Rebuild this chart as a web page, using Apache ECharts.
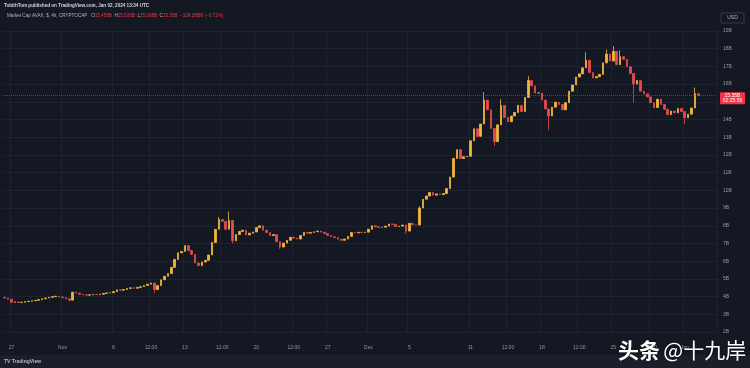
<!DOCTYPE html>
<html><head><meta charset="utf-8">
<script src="https://cdn.jsdelivr.net/npm/echarts@6/dist/echarts.min.js"></script>
<style>html,body{margin:0;padding:0;background:#141823;}#c{width:750px;height:368px;}</style>
</head><body><div id="c"></div>
<script>
// 8h candles, Oct 26 2023 08:00 UTC -> Jan 2 2024 08:00 UTC (market cap, billions USD)
const closes = [
3.92,3.85,3.68,3.70,3.67,3.68,3.72,3.74,3.77,3.79,
3.83,3.88,3.92,3.96,4.00,4.02,3.98,3.94,3.88,3.80,
4.25,4.20,4.13,4.10,4.08,4.10,4.12,4.11,4.13,4.18,
4.21,4.22,4.28,4.38,4.36,4.40,4.46,4.50,4.47,4.52,
4.56,4.63,4.70,4.77,4.40,4.62,4.95,5.15,5.30,5.65,
6.10,6.47,6.55,6.88,6.60,6.38,5.90,5.75,5.95,6.05,
6.35,7.05,7.80,8.35,8.25,7.80,8.30,7.15,7.50,7.68,
7.75,7.48,7.58,7.65,7.90,8.00,7.75,7.62,7.45,7.50,
7.10,6.80,7.02,7.18,7.35,7.30,7.25,7.45,7.63,7.58,
7.62,7.66,7.70,7.64,7.56,7.46,7.38,7.33,7.24,7.18,
7.25,7.40,7.62,7.60,7.63,7.62,7.64,7.80,8.00,7.94,
7.91,7.92,7.98,8.10,8.08,7.96,7.98,8.04,7.70,8.14,
8.05,8.04,9.00,9.50,9.68,9.88,9.73,9.80,9.76,9.82,
10.10,10.75,11.80,12.30,11.80,11.90,11.92,12.80,13.48,13.05,
13.75,15.10,14.55,13.50,12.75,13.70,14.80,14.12,13.88,14.20,
14.40,14.80,14.45,15.25,16.20,15.90,15.50,15.50,15.10,14.60,
14.20,14.70,14.98,14.85,14.55,14.95,15.60,15.95,16.40,16.58,
16.92,17.35,16.65,16.35,16.42,16.55,17.20,17.70,17.30,17.85,
17.10,17.55,17.40,16.98,16.60,16.00,16.20,15.60,15.45,15.28,
14.95,14.68,15.15,14.85,14.58,14.28,14.48,14.38,14.62,14.45,
14.10,14.30,14.65,15.46,15.35
];
const firstOpen = 3.95;
// notable wicks (candle index -> value)
const wickHigh = {0:4.0, 63:8.5, 66:8.8, 122:9.1, 141:15.55, 146:15.15, 154:16.45, 171:17.8, 177:17.95, 179:18.15, 181:17.9, 203:15.8};
const wickLow = {19:3.75, 44:4.2, 67:7.0, 81:6.7, 118:7.55, 144:12.5, 160:13.4, 185:14.95, 200:13.75};

const tickAt = ['2023-10-27 00:00','2023-11-01 00:00','2023-11-06 00:00','2023-11-09 16:00','2023-11-13 00:00','2023-11-16 16:00','2023-11-20 00:00','2023-11-23 16:00','2023-11-27 00:00','2023-12-01 00:00','2023-12-05 00:00','2023-12-11 00:00','2023-12-14 16:00','2023-12-18 00:00','2023-12-21 16:00','2023-12-25 00:00','2023-12-28 16:00','2024-01-01 00:00'];
const tickText = ['27','Nov','6','12:00','13','12:00','20','12:00','27','Dec','5','11','12:00','18','12:00','25','12:00','Jan'];
const yMin = 2, yMax = 19, yStep = 1;
const lastPrice = 15.35, lastLabel = '15.35B', countdown = '02:25:56';

const pad = n => String(n).padStart(2,'0');
const fmt = t => { const d = new Date(t); return d.getUTCFullYear()+'-'+pad(d.getUTCMonth()+1)+'-'+pad(d.getUTCDate())+' '+pad(d.getUTCHours())+':00'; };
const start = Date.UTC(2023,9,26,8);
const cats = [];
for (let i = 0; i < closes.length + 5; i++) cats.push(fmt(start + i*8*3600e3));
const tickIdx = {};
tickAt.forEach((t,k) => { const i = cats.indexOf(t); if (i >= 0) tickIdx[i] = tickText[k]; });

const ohlc = closes.map((c,i) => {
  const o = i === 0 ? firstOpen : closes[i-1];
  const h = Math.max(o, c, wickHigh[i] !== undefined ? wickHigh[i] : -Infinity);
  const l = Math.min(o, c, wickLow[i] !== undefined ? wickLow[i] : Infinity);
  return [o, c, l, h];
});

const UP = '#f3b73c', DOWN = '#e84a4f', TXT = '#9598a1', GRID = '#1e2231', RED = '#f23645';
const chart = echarts.init(document.getElementById('c'), null, {renderer:'canvas'});
const F = 'Liberation Sans, Arial, sans-serif';
chart.setOption({
  backgroundColor: '#141823',
  animation: false,
  grid: {left: 3, right: 33, top: 31, bottom: 36},
  xAxis: {
    type: 'category', data: cats, boundaryGap: true,
    axisLine: {show: false}, axisTick: {show: false},
    axisLabel: {interval: i => i in tickIdx, formatter: (v,i) => tickIdx[i] || '', color: TXT, fontSize: 5, margin: 13, fontFamily: F},
    splitLine: {show: true, interval: i => i in tickIdx, lineStyle: {color: GRID, width: 1}}
  },
  yAxis: {
    type: 'value', position: 'right', min: yMin, max: yMax, interval: yStep, scale: true,
    axisLine: {show: false}, axisTick: {show: false},
    axisLabel: {formatter: v => v + 'B', color: TXT, fontSize: 5, margin: 6, fontFamily: F},
    splitLine: {lineStyle: {color: GRID, width: 1}}
  },
  series: [{
    type: 'candlestick', data: ohlc, barWidth: 2,
    itemStyle: {color: UP, color0: DOWN, borderColor: UP, borderColor0: DOWN, borderWidth: 0.8},
    markLine: {silent: true, symbol: 'none', label: {show: false},
      lineStyle: {color: RED, type: 'dotted', width: 1, opacity: 0.6},
      data: [{yAxis: lastPrice}]}
  }]
});

const py = chart.convertToPixel({yAxisIndex: 0}, lastPrice);
const G = '#b2b5be';
const g = [
  {type:'text', left: 4, top: 3.5, style:{text:'TobithTom published on TradingView.com, Jan 02, 2024 13:34 UTC', fill:'#d1d4dc', font:'bold 4.6px '+F}},
  {type:'text', x: 7, y: 15.5, style:{
    text:'{g|Market Cap AVAX, $, 4h, CRYPTOCAP}   {g|O}{r|15.459B}  {g|H}{r|15.526B}  {g|L}{r|15.268B}  {g|C}{r|15.35B}  {r|\u2212109.285M (\u22120.71%)}',
    textVerticalAlign:'middle',
    rich:{g:{fill:G, fontSize:4.6, fontFamily:F}, r:{fill:RED, fontSize:4.6, fontFamily:F}}, fontSize:4.6, fontFamily:F}},
  {type:'rect', shape:{x:721, y:13, width:23, height:10, r:1}, style:{fill:'none', stroke:'#363a45', lineWidth:1}},
  {type:'text', x:732.5, y:18, style:{text:'USD', fill:G, font:'5px '+F, textAlign:'center', textVerticalAlign:'middle'}},
  {type:'rect', shape:{x:720, y:py-3.5, width:25, height:12, r:1}, style:{fill:RED}, z:10},
  {type:'text', x:732.5, y:py, z:11, style:{text:lastLabel, fill:'#fff', font:'5px '+F, textAlign:'center', textVerticalAlign:'middle'}},
  {type:'text', x:732.5, y:py+5.2, z:11, style:{text:countdown, fill:'#fff', font:'5px '+F, textAlign:'center', textVerticalAlign:'middle'}},
  {type:'rect', shape:{x:0, y:355, width:750, height:13}, style:{fill:'#1b1f2a'}},
  {type:'text', x:4, y:361.5, style:{text:'TV TradingView', fill:G, font:'bold 5px '+F, textVerticalAlign:'middle'}},
  {type:'text', x:618, y:350, z:20, style:{text:'{a|头条} {b|@十九岸}', textVerticalAlign:'middle',
    rich:{a:{fontSize:21, fontWeight:'bold', fill:'#fff', fontFamily:'Noto Sans CJK SC'}, b:{fontSize:21, fill:'#fff', fontFamily:'Noto Sans CJK SC'}},
    textShadowColor:'rgba(0,0,0,0.6)', textShadowBlur:2}}
];
chart.setOption({graphic: g});
</script></body></html>
